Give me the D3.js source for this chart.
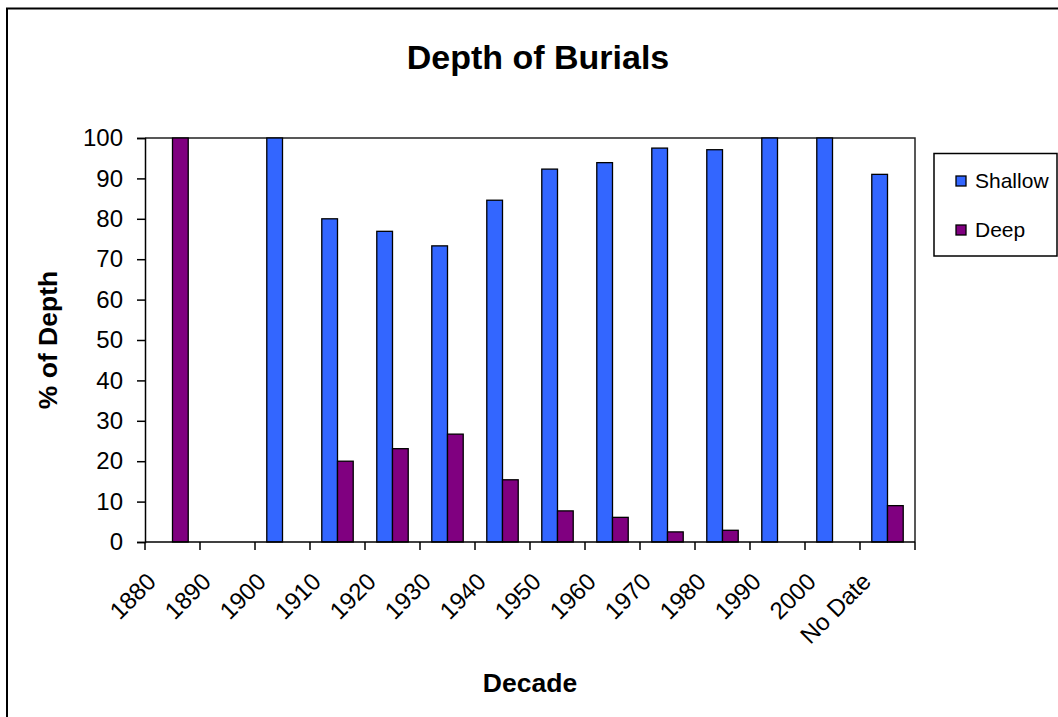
<!DOCTYPE html>
<html>
<head>
<meta charset="utf-8">
<script src="https://cdn.jsdelivr.net/npm/d3@7"></script>
<style>
  body { margin: 0; background: #fff; }
  text { font-family: Arial, "Liberation Sans", sans-serif; fill: #000; }
</style>
</head>
<body>
<div id="chart"></div>
<script>
const width = 1058;
const height = 717;

const decades = ["1880", "1890", "1900", "1910", "1920", "1930", "1940", "1950", "1960", "1970", "1980", "1990", "2000", "No Date"];
const seriesNames = ["Shallow", "Deep"];
const shallow = [0, 0, 100, 80, 76.9, 73.3, 84.6, 92.3, 93.9, 97.5, 97.1, 100, 100, 91];
const deep = [100, 0, 0, 20, 23.1, 26.7, 15.4, 7.7, 6.1, 2.5, 2.9, 0, 0, 9];
const yTicks = [0, 10, 20, 30, 40, 50, 60, 70, 80, 90, 100];
const colors = { Shallow: "#3366FF", Deep: "#800080" };

const plot = { left: 145, right: 915, top: 138, bottom: 542 };

const svg = d3.select("#chart")
    .append("svg")
    .attr("width", width)
    .attr("height", height);

// outer chart frame, runs off the right and bottom edge
svg.append("rect")
    .attr("x", 7)
    .attr("y", 8.5)
    .attr("width", 1100)
    .attr("height", 800)
    .attr("fill", "none")
    .attr("stroke", "#000")
    .attr("stroke-width", 2);

const x0 = d3.scaleBand()
    .domain(decades)
    .range([plot.left, plot.right]);

const x1 = d3.scaleBand()
    .domain(seriesNames)
    .range([0, x0.bandwidth()])
    .paddingOuter(0.75);

const y = d3.scaleLinear()
    .domain([0, 100])
    .range([plot.bottom, plot.top]);

const rows = decades.map((d, i) => ({ decade: d, Shallow: shallow[i], Deep: deep[i] }));

// plot area border (top and right)
svg.append("path")
    .attr("d", `M${plot.left},${plot.top}H${plot.right}V${plot.bottom}`)
    .attr("fill", "none")
    .attr("stroke", "#222")
    .attr("stroke-width", 1.5);

// bars
const groups = svg.append("g")
    .selectAll("g")
    .data(rows)
    .enter().append("g")
    .attr("transform", d => `translate(${x0(d.decade)},0)`);

groups.selectAll("rect")
    .data(d => seriesNames.map(s => ({ key: s, value: d[s] })).filter(v => v.value > 0))
    .enter().append("rect")
    .attr("x", d => x1(d.key))
    .attr("y", d => y(d.value))
    .attr("width", x1.bandwidth())
    .attr("height", d => y(0) - y(d.value))
    .attr("fill", d => colors[d.key])
    .attr("stroke", "#000")
    .attr("stroke-width", 1.3);

// y axis
const yAxis = svg.append("g")
    .attr("transform", `translate(${plot.left},0)`)
    .call(d3.axisLeft(y).tickValues(yTicks).tickSize(8).tickPadding(14));
yAxis.select(".domain").attr("stroke", "#000").attr("stroke-width", 1.5);
yAxis.selectAll(".tick line").attr("stroke", "#000").attr("stroke-width", 1.5);
yAxis.selectAll(".tick text")
    .attr("font-size", 24)
    .attr("font-family", "Arial, 'Liberation Sans', sans-serif")
    .attr("fill", "#000");

// x axis: ticks on category boundaries
const xAxis = svg.append("g")
    .attr("transform", `translate(0,${plot.bottom})`);
xAxis.append("line")
    .attr("x1", plot.left)
    .attr("x2", plot.right)
    .attr("stroke", "#000")
    .attr("stroke-width", 1.5);
xAxis.selectAll(".bound")
    .data(decades.concat(["end"]))
    .enter().append("line")
    .attr("class", "bound")
    .attr("x1", (d, i) => i < decades.length ? x0(d) : plot.right)
    .attr("x2", (d, i) => i < decades.length ? x0(d) : plot.right)
    .attr("y1", 0)
    .attr("y2", 8)
    .attr("stroke", "#000")
    .attr("stroke-width", 1.5);
xAxis.selectAll(".lbl")
    .data(decades)
    .enter().append("text")
    .attr("class", "lbl")
    .attr("text-anchor", "end")
    .attr("font-size", 24)
    .attr("transform", d => `translate(${x0(d) + x0.bandwidth() / 2 - 15},${41}) rotate(-45)`)
    .text(d => d);

// titles
svg.append("text")
    .attr("x", 538)
    .attr("y", 69)
    .attr("text-anchor", "middle")
    .attr("font-size", 34)
    .attr("font-weight", "bold")
    .text("Depth of Burials");

svg.append("text")
    .attr("x", (plot.left + plot.right) / 2)
    .attr("y", 692)
    .attr("text-anchor", "middle")
    .attr("font-size", 26.5)
    .attr("font-weight", "bold")
    .text("Decade");

svg.append("text")
    .attr("transform", `translate(57,${(plot.top + plot.bottom) / 2}) rotate(-90)`)
    .attr("text-anchor", "middle")
    .attr("font-size", 26.5)
    .attr("font-weight", "bold")
    .text("% of Depth");

// legend
const legend = svg.append("g");
legend.append("rect")
    .attr("x", 934)
    .attr("y", 153.5)
    .attr("width", 123)
    .attr("height", 102.5)
    .attr("fill", "#fff")
    .attr("stroke", "#000")
    .attr("stroke-width", 1.5);
const items = legend.selectAll(".item")
    .data(seriesNames)
    .enter().append("g")
    .attr("transform", (d, i) => `translate(956,${176 + i * 49})`);
items.append("rect")
    .attr("width", 10)
    .attr("height", 10)
    .attr("fill", d => colors[d])
    .attr("stroke", "#000")
    .attr("stroke-width", 1.3);
items.append("text")
    .attr("x", 19)
    .attr("y", 12)
    .attr("font-size", 21)
    .text(d => d);
</script>
</body>
</html>
